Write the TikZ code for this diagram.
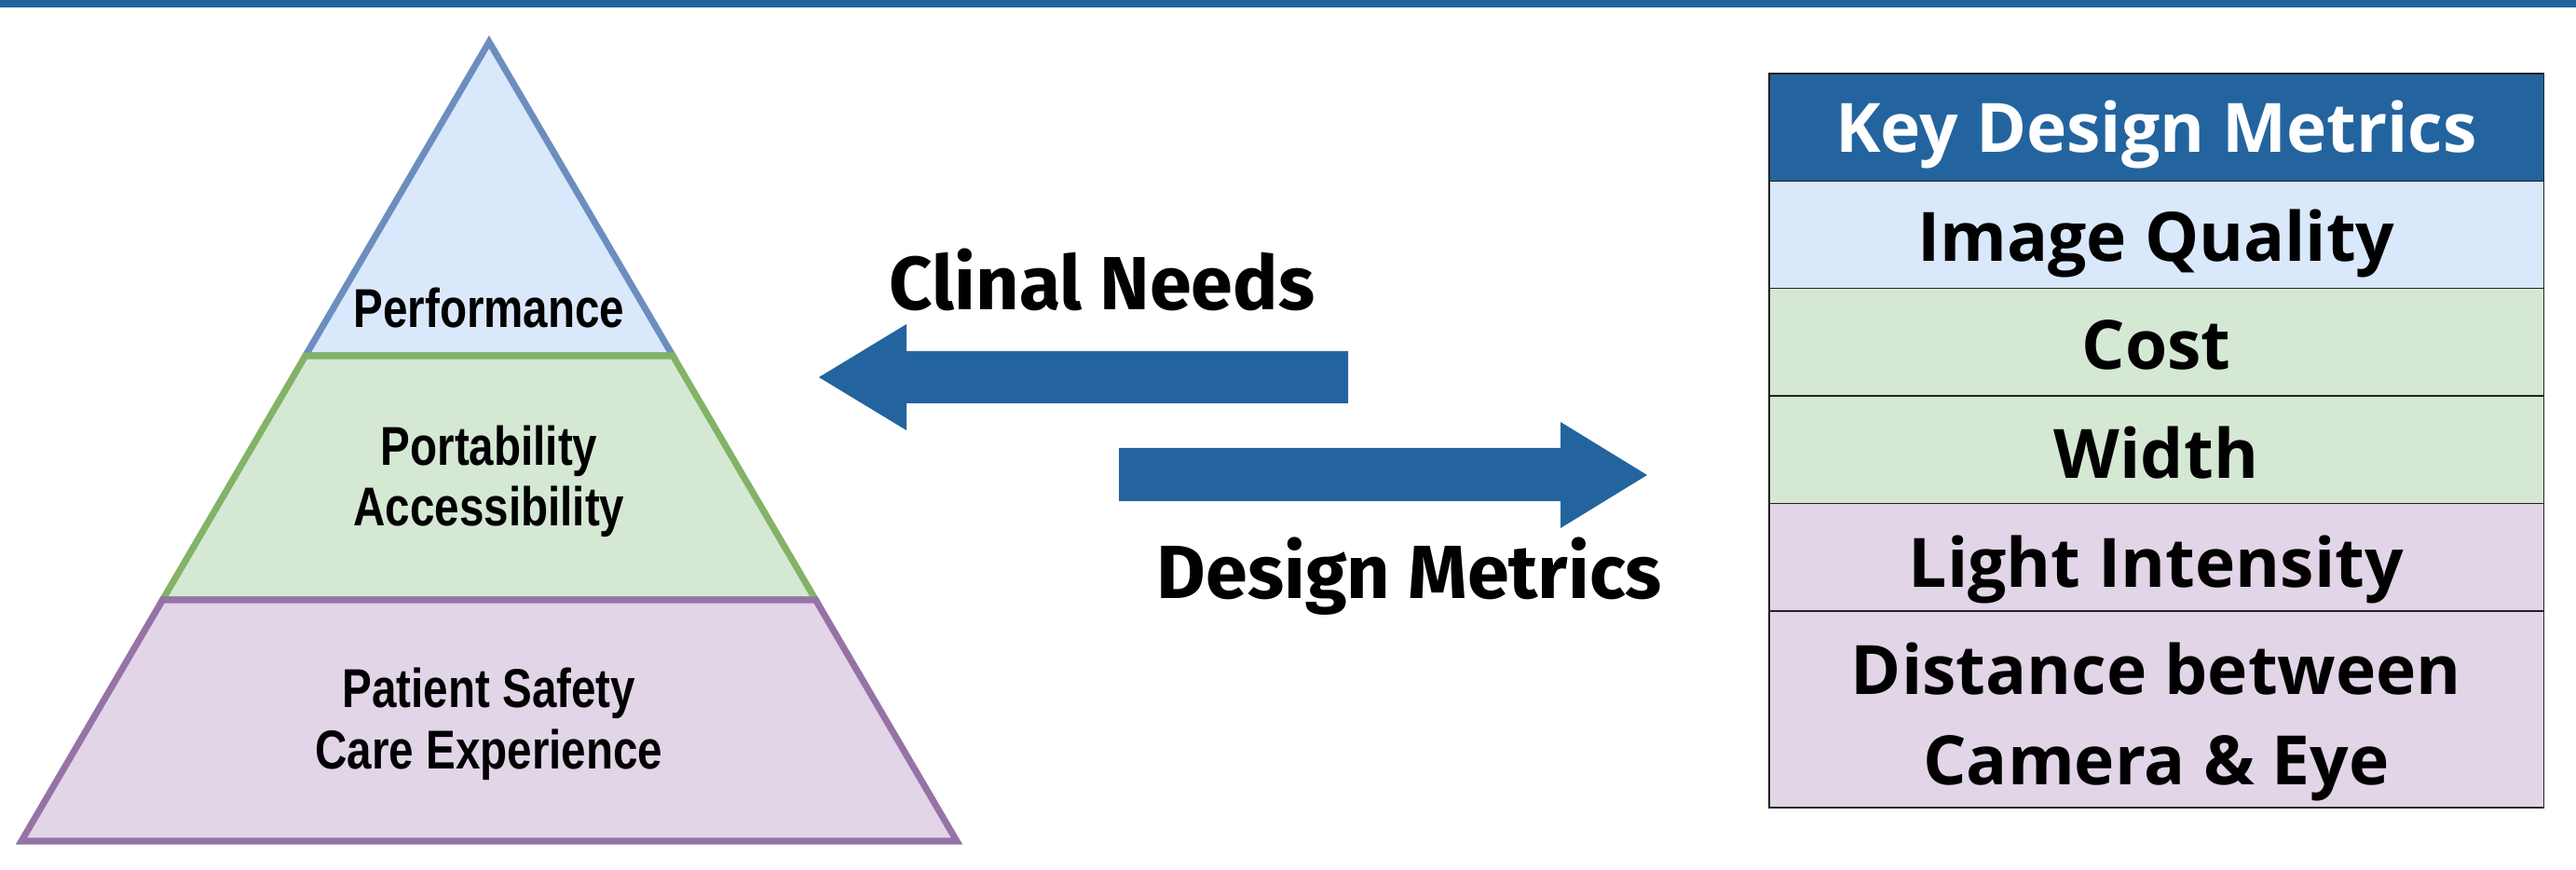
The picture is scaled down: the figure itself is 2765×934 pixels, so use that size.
\documentclass[tikz,border=0pt]{standalone}
\usepackage{fontspec}
\newfontfamily\pyrfont[FakeStretch=0.81]{Liberation Sans}
\newfontfamily\arrfont{Fira Sans}
\newfontfamily\tabfont{Open Sans}
\definecolor{mainblue}{HTML}{23649F}
\definecolor{lblue}{HTML}{DAE8FC}
\definecolor{lbluedraw}{HTML}{6C8EBF}
\definecolor{lgreen}{HTML}{D5E8D4}
\definecolor{lgreendraw}{HTML}{82B366}
\definecolor{lpurple}{HTML}{E1D5E7}
\definecolor{lpurpledraw}{HTML}{9673A6}
\definecolor{cellline}{HTML}{222222}
\tikzset{
  layer/.style={line width=2pt, line join=miter},
  pyrtext/.style={font=\pyrfont\bfseries\fontsize{16.7}{20}\selectfont, anchor=base, inner sep=0pt},
  arrtext/.style={font=\arrfont\bfseries\fontsize{23}{28}\selectfont, anchor=base, inner sep=0pt},
  tabtext/.style={font=\tabfont\bfseries\fontsize{20.8}{25}\selectfont, anchor=base, inner sep=0pt},
  cell/.style={draw=cellline, line width=0.4pt, rectangle, anchor=north west, inner sep=0pt, outer sep=0pt, minimum width=8.31cm},
  blockarrow/.style={fill=mainblue}
}
\begin{document}
\begin{tikzpicture}[x=0.01cm,y=-0.01cm]
\useasboundingbox (0,0) rectangle (2765,934);
% top bar
\fill[mainblue] (0,0) rectangle (2765,8.5);
% pyramid
\filldraw[layer, fill=lblue, draw=lbluedraw] (525,45) -- (722.2,382) -- (327.8,382) -- cycle;
\filldraw[layer, fill=lgreen, draw=lgreendraw] (327.8,382) -- (722.2,382) -- (875.5,644) -- (174.5,644) -- cycle;
\filldraw[layer, fill=lpurple, draw=lpurpledraw] (174.5,644) -- (875.5,644) -- (1027,903) -- (23,903) -- cycle;
\node[pyrtext] (perf) at (525,352) {Performance};
\node[pyrtext] (port) at (525,500) {Portability};
\node[pyrtext] (acc) at (525,565) {Accessibility};
\node[pyrtext] (pat) at (525,760) {Patient Safety};
\node[pyrtext] (care) at (525,826) {Care Experience};
% block arrows
\fill[blockarrow] (879,405) -- (973,348) -- (973,377) -- (1447,377) -- (1447,433) -- (973,433) -- (973,462) -- cycle;
\fill[blockarrow] (1768,510) -- (1675,453) -- (1675,481) -- (1201,481) -- (1201,538) -- (1675,538) -- (1675,567) -- cycle;
\node[arrtext] (clin) at (1183,333) {Clinal Needs};
\node[arrtext] (desm) at (1513,643) {Design Metrics};
% table
\node[cell, fill=mainblue, minimum height=1.154cm] (r0) at (1899,79) {};
\node[cell, fill=lblue, minimum height=1.154cm] (r1) at (1899,194.4) {};
\node[cell, fill=lgreen, minimum height=1.154cm] (r2) at (1899,309.8) {};
\node[cell, fill=lgreen, minimum height=1.154cm] (r3) at (1899,425.2) {};
\node[cell, fill=lpurple, minimum height=1.154cm] (r4) at (1899,540.6) {};
\node[cell, fill=lpurple, minimum height=2.11cm] (r5) at (1899,656) {};
\node[tabtext, text=white] (t0) at (2314.5,164) {Key Design Metrics};
\node[tabtext] (t1) at (2314.5,281) {Image Quality};
\node[tabtext] (t2) at (2314.5,396.5) {Cost};
\node[tabtext] (t3) at (2314.5,513.5) {Width};
\node[tabtext] (t4) at (2314.5,630.5) {Light Intensity};
\node[tabtext] (t5a) at (2314.5,746) {Distance between};
\node[tabtext] (t5b) at (2314.5,843) {Camera \& Eye};
\end{tikzpicture}
\end{document}
